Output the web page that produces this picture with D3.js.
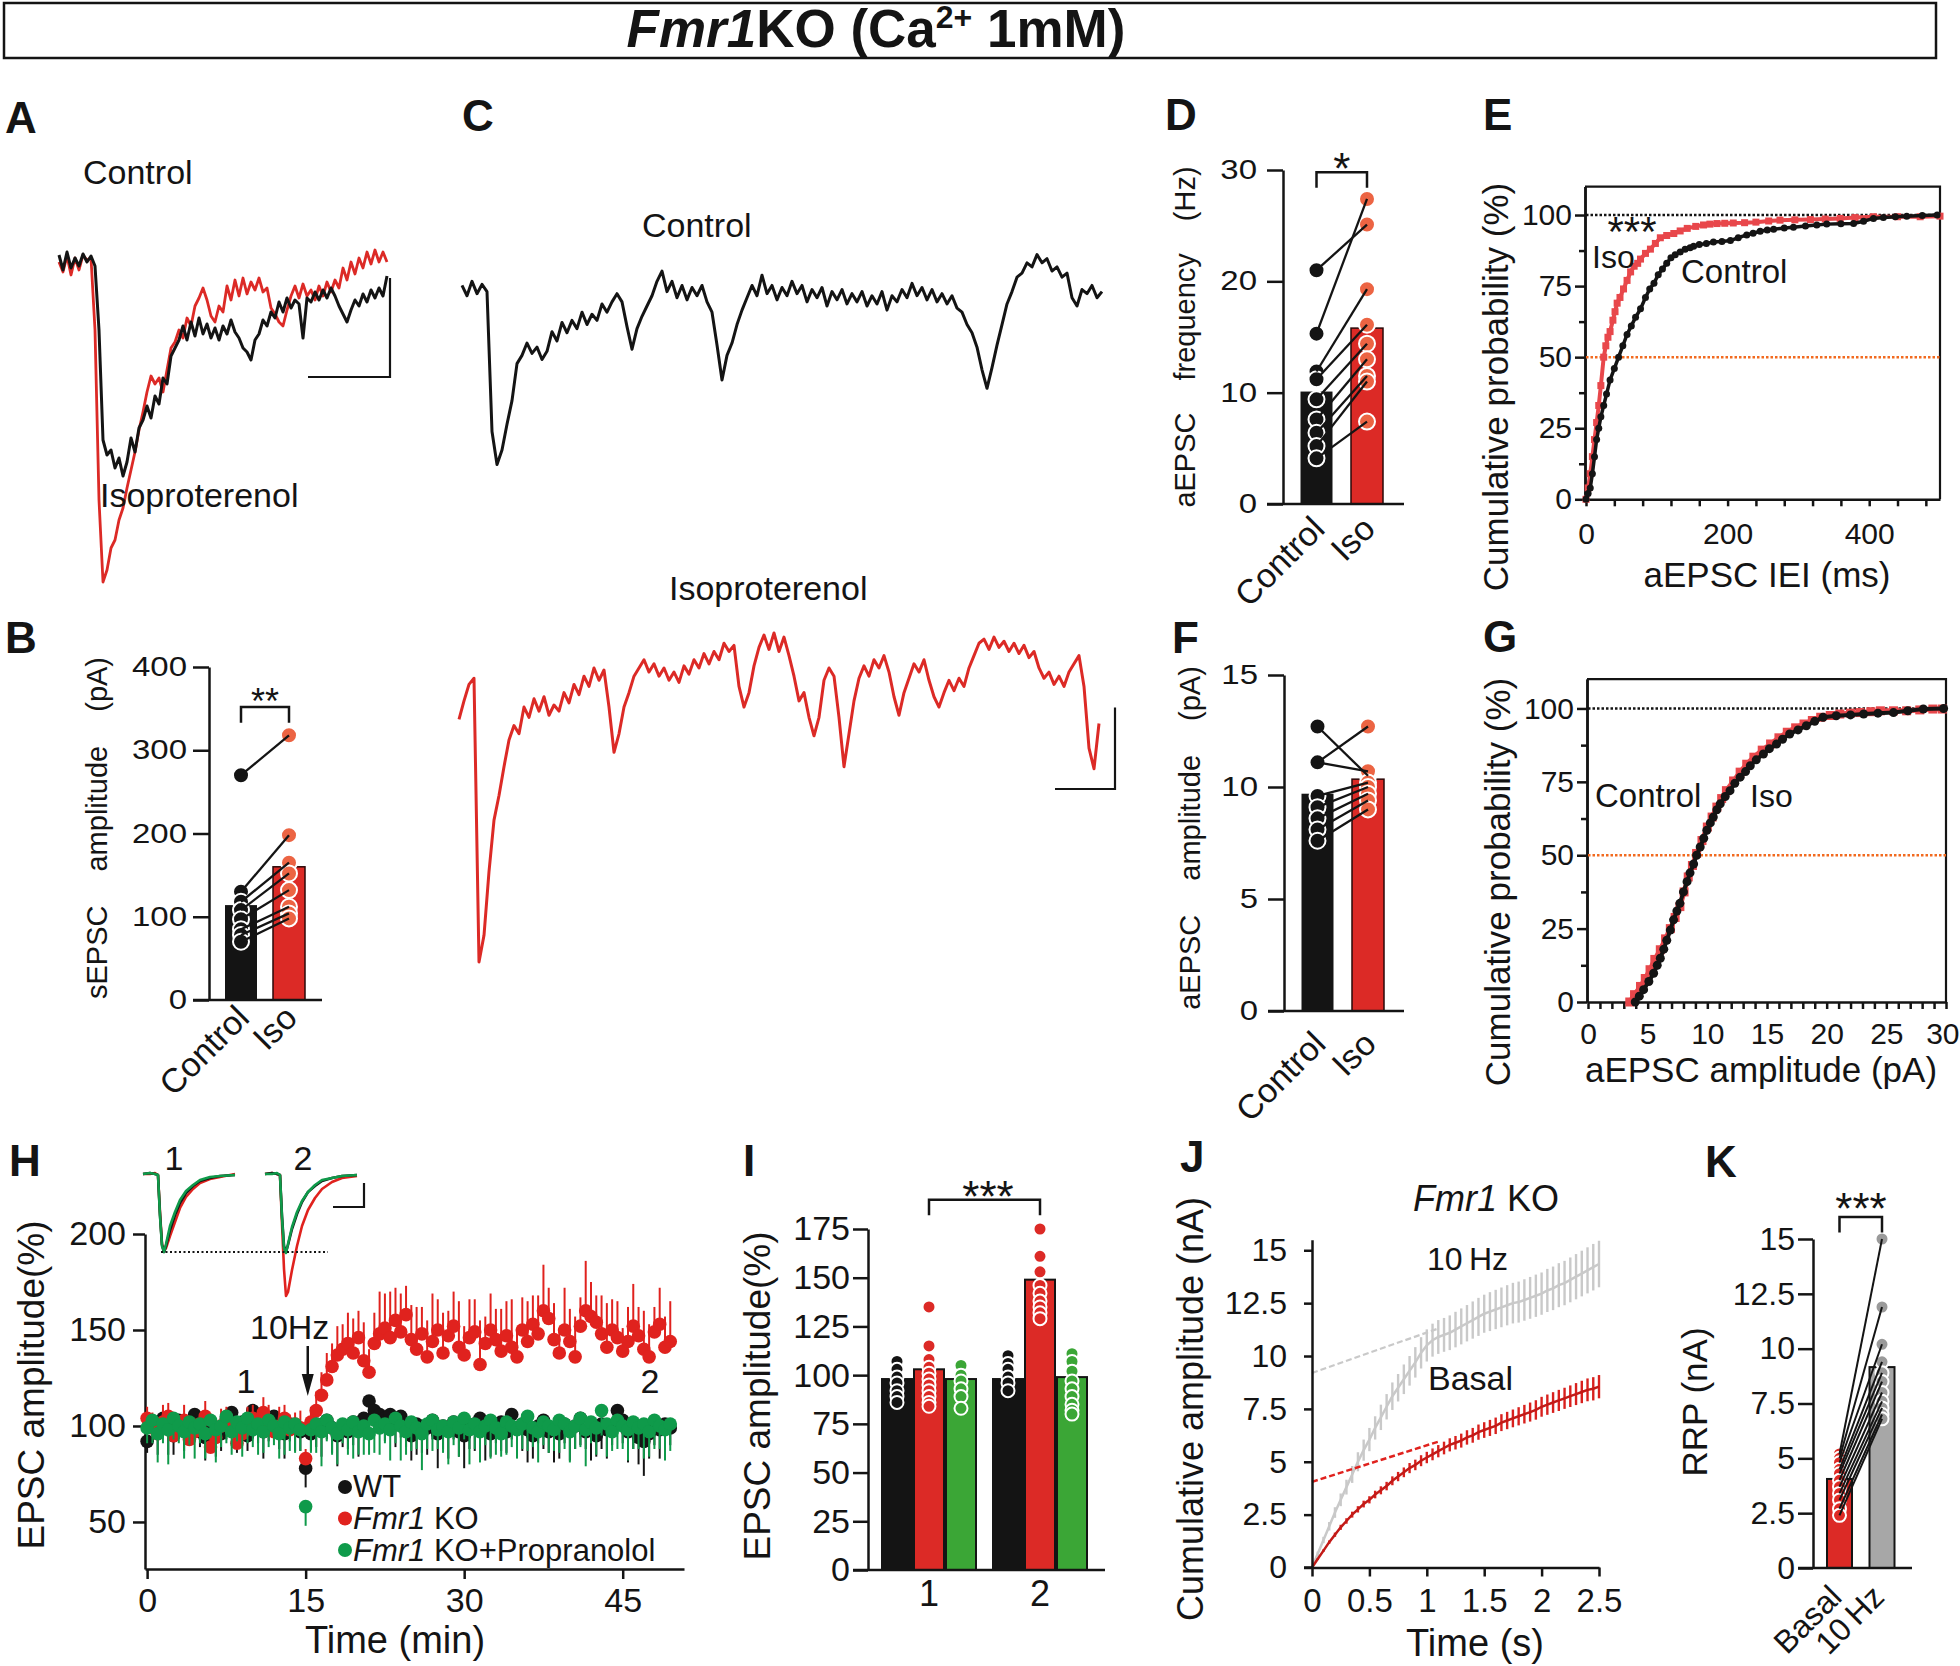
<!DOCTYPE html>
<html><head><meta charset="utf-8">
<script src="https://cdn.jsdelivr.net/npm/d3@7"></script>
<style>
body{margin:0;background:#fff}
svg text{font-family:"Liberation Sans",Arial,Helvetica,sans-serif;fill:#141414}
</style></head><body>
<svg id="fig" width="1960" height="1666" xmlns="http://www.w3.org/2000/svg"></svg>
<script>
// ================= DATA =================
// Panel A: representative sEPSC traces (1 sample / ms, pA)
const A_control = [8,-7,11,-5,5,-3,9,1,7,-3,-67,-177,-192,-187,-205,-195,-213,-199,-175,-189,-165,-157,-143,-155,-133,-141,-115,-121,-93,-85,-77,-63,-77,-59,-73,-55,-71,-61,-75,-65,-77,-63,-71,-57,-69,-75,-85,-89,-97,-77,-71,-57,-63,-49,-55,-39,-49,-35,-45,-37,-41,-75,-35,-39,-29,-37,-27,-35,-25,-33,-43,-51,-59,-47,-37,-43,-31,-39,-27,-35,-25,-33,-13];
const A_iso = [1,-9,7,-12,5,-7,8,3,5,-67,-237,-319,-307,-285,-277,-257,-245,-225,-207,-189,-167,-149,-129,-113,-121,-115,-129,-107,-85,-79,-67,-75,-55,-63,-43,-35,-25,-37,-53,-59,-43,-49,-23,-37,-17,-33,-15,-31,-19,-27,-15,-29,-25,-45,-51,-59,-63,-47,-33,-23,-35,-21,-33,-27,-37,-23,-33,-19,-29,-17,-25,-5,-17,1,-11,5,-5,11,-1,13,1,11,1];
// Panel C: aEPSC traces (pA)
const C_control = [2,-8,6,-6,3,-4,-140,-172,-158,-133,-110,-74,-66,-54,-64,-58,-70,-62,-43,-52,-34,-44,-32,-40,-24,-36,-26,-32,-16,-24,-14,-6,-14,-38,-60,-40,-28,-18,-8,6,16,-4,6,-10,2,-12,0,-8,2,-14,-24,-56,-90,-66,-54,-36,-22,-10,2,-8,12,-6,2,-12,0,-8,6,-6,2,-14,-2,-10,0,-18,-4,-12,-2,-16,-6,-14,-4,-18,-8,-16,-4,-22,-8,-14,-2,-10,4,-8,0,-12,-2,-14,-6,-16,-8,-20,-24,-36,-44,-58,-80,-98,-78,-56,-36,-16,-4,10,14,24,20,32,24,28,16,20,10,14,-10,-18,-2,-6,2,-10,-4];
const C_iso = [-52,-34,-18,-12,-288,-262,-200,-150,-126,-98,-72,-58,-66,-40,-50,-32,-44,-30,-48,-38,-44,-26,-36,-18,-28,-10,-20,-2,-14,-4,-40,-84,-66,-40,-26,-10,-2,6,-6,2,-10,-2,-14,-6,-16,0,-8,6,-2,12,2,14,6,22,14,20,-20,-40,-26,0,18,30,16,32,14,28,10,-10,-34,-26,-50,-68,-50,-14,-2,-10,-50,-98,-66,-34,-12,0,-10,6,-2,10,-6,-30,-48,-26,-12,2,-6,6,-14,-30,-40,-26,-14,-24,-12,-20,-2,10,22,26,16,28,18,24,14,22,12,20,8,14,-2,-12,-6,-18,-10,-20,-6,2,10,-20,-80,-100,-56];

// Paired bar panels
const categoriesCI = ['Control','Iso'];
const B_control = [270,130,118,108,97,85,78,70];
const B_iso     = [318,198,165,152,132,112,104,98];
const B_means   = [114,160];
const D_control = [21.0,15.3,11.9,11.2,9.4,7.6,6.4,5.2,4.1];
const D_iso     = [25.1,27.4,19.3,16.1,14.4,13.0,11.5,11.0,7.4];
const D_means   = [10.1,15.8];
const F_control = [12.7,11.1,11.1,9.6,9.1,8.6,8.1,7.6];
const F_iso     = [10.5,12.7,10.7,10.2,10.0,9.7,9.4,9.0];
const F_means   = [9.7,10.35];

// Cumulative distributions [x, %]
const E_control = [[0,0],[3,2],[6,4],[9,9],[12,15],[15,21],[18,25],[21,29],[25,33],[29,37],[34,42],[40,46],[46,50],[52,54],[58,58],[64,61],[70,64],[77,67],[84,71],[90,74],[96,76],[102,79],[108,81],[114,83],[120,85],[126,86],[133,87],[140,88],[147,88.5],[152,89],[160,89.6],[170,90],[180,90.5],[192,90.7],[204,91],[215,92],[227,93],[236,93.6],[246,94.3],[256,94.7],[265,95],[280,95.4],[293,95.7],[310,96.1],[326,96.5],[340,96.8],[360,96.9],[378,97],[392,97.8],[406,98.8],[420,99.1],[437,99.4],[453,99.6],[475,99.8],[496,100]];
const E_iso = [[0,0],[3,4],[6,9],[9,15],[12,21],[15,27],[18,33],[21,40],[25,50],[28,54],[31,57],[34,59],[38,63],[41,66],[44,69],[48,71],[53,74],[58,77],[63,80],[68,82],[73,83],[77,84.5],[84,86.5],[91,88],[98,90],[105,92],[114,92.8],[124,93.5],[133,94.4],[143,95.3],[155,96],[166,96.5],[175,96.8],[185,97],[196,97.1],[208,97.2],[224,97.3],[240,97.5],[258,97.9],[274,98.2],[295,98.3],[317,98.4],[338,98.6],[359,98.8],[380,99.1],[406,99.4],[440,99.4],[472,99.4],[500,99.6]];
const G_control = [[3.96,0],[4.3,2],[4.66,4.2],[5.1,7],[5.5,9.8],[5.8,12.5],[6.06,14.9],[6.35,18],[6.6,21],[6.9,24.5],[7.17,28],[7.45,31],[7.7,33.6],[8.0,37.5],[8.3,41],[8.55,44],[8.85,47],[9.1,50],[9.4,52.8],[9.7,55.8],[9.96,58.5],[10.25,61],[10.5,63],[10.8,65.5],[11.08,67.5],[11.5,70],[11.9,72],[12.3,74.5],[12.75,76.6],[13.2,78.5],[13.6,80.5],[14.1,82.5],[14.7,84.5],[15.2,86.3],[15.8,87.9],[16.3,89.5],[16.9,91.3],[17.6,92.7],[18.3,94.1],[19.0,95.6],[19.7,97],[20.8,97.5],[22.0,97.8],[23.1,98.1],[24.3,98.4],[25.6,98.6],[26.8,99.2],[28.1,99.8],[29.8,100]];
const G_iso = [[3.5,0],[3.9,2.5],[4.4,5.3],[4.8,8],[5.2,11],[5.6,14.5],[6.06,17.8],[6.5,21.5],[6.9,25],[7.3,28.8],[7.7,32.5],[8.05,37.5],[8.4,42.6],[8.75,46.5],[9.1,50.6],[9.55,55],[10.0,59.6],[10.4,63],[10.8,66.4],[11.2,69.3],[11.6,72],[12.2,75.3],[12.75,78.3],[13.3,81],[13.9,83.4],[14.6,85.8],[15.3,87.9],[16.0,90],[16.7,91.9],[17.4,93.4],[18.1,94.7],[18.8,95.9],[19.5,97],[20.3,97.6],[21.1,98.1],[22.0,98.4],[22.8,98.6],[23.7,98.9],[24.5,99.2],[25.6,99.2],[26.7,99.2],[27.8,99.5],[28.9,99.8],[29.7,99.8]];

// Panel H: time course (one point per 0.5 min), EPSC amplitude (%)
const H_dt = 0.5;
const H_WT = [92,101,97,104,99,95,103,98,100,106,97,94,101,99,96,104,107,99,102,95,108,100,97,103,105,98,96,101,99,97,78,96,101,98,103,99,95,100,97,102,99,104,113,108,106,104,106,103,105,98,95,101,97,99,103,96,100,98,102,97,95,99,101,104,98,96,100,102,97,106,99,101,98,95,100,103,97,99,96,101,98,100,104,97,99,95,101,98,100,108,103,97,99,94,92,96,100,98,101,99];
const H_WT_err = [6,9,12,8,14,10,7,11,9,13,8,12,10,15,9,11,7,13,10,8,12,9,14,11,8,10,13,9,12,10,10,9,12,14,10,13,16,11,9,12,15,10,8,11,9,12,10,14,11,9,13,16,11,14,10,18,12,15,9,13,17,11,14,10,16,12,9,15,11,13,10,14,17,12,9,15,11,18,13,10,16,12,14,9,17,11,13,15,10,8,12,16,11,14,18,13,10,15,12,9];
const H_KO = [104,99,96,102,105,95,99,103,93,97,101,105,89,94,100,103,98,91,96,101,104,99,107,102,97,100,104,98,101,99,83,102,108,116,124,131,137,140,143,138,146,134,128,143,148,151,146,155,149,158,145,140,148,136,144,150,138,147,152,141,137,146,149,132,143,150,145,139,147,141,136,150,144,153,148,160,156,145,138,150,144,136,152,160,157,154,148,141,150,146,139,144,152,147,140,136,149,153,141,144];
const H_KO_err = [6,8,5,9,7,10,6,8,9,7,5,8,10,6,9,7,8,10,6,9,7,5,8,9,6,10,7,8,6,9,5,8,10,12,14,12,15,13,16,18,14,20,12,16,22,18,24,17,20,15,18,22,14,19,25,16,21,13,18,24,15,20,17,23,14,19,16,22,18,25,14,17,21,15,20,24,16,19,13,22,17,21,15,26,18,14,20,23,16,19,12,18,22,15,20,17,13,19,16,21];
const H_Prop = [99,103,96,101,98,104,100,97,102,99,101,96,103,98,100,105,97,102,99,104,98,101,97,103,100,96,102,99,101,98,58,98,101,97,103,99,96,101,98,102,97,100,96,103,99,101,98,104,100,97,102,99,96,101,103,98,100,97,102,99,104,98,101,97,100,103,99,96,102,100,98,101,105,99,97,102,100,98,103,101,97,100,104,98,102,99,108,101,97,103,100,98,102,99,101,97,103,100,98,101];
const H_Prop_err = [8,12,15,10,18,11,9,14,12,16,10,13,9,17,11,14,12,10,15,13,9,16,11,14,10,13,17,12,15,11,10,12,15,18,11,14,16,10,13,19,12,15,11,17,14,10,16,13,18,12,15,11,19,13,16,10,14,17,12,15,11,18,13,16,10,20,14,12,17,11,15,13,18,10,16,12,14,11,17,13,16,12,15,19,11,14,13,17,10,15,12,16,14,11,18,13,15,12,16,14];
// H insets: sample times and deflections
const H_inset_t = [0,7,12,15,17,19,21,23,27,32,37,43,50,57,67,77,92];
const H_in1_WT   = [0,1,0,-1,-41,-71,-78,-72,-56,-41,-29,-19,-12,-7,-4,-2,-1];
const H_in1_KO   = [0,0,1,-1,-38,-70,-77,-74,-62,-48,-34,-23,-15,-9,-5,-3,0];
const H_in1_Prop = [0,1,0,-1,-42,-72,-78,-70,-52,-38,-26,-17,-11,-6,-3,-2,-1];
const H_in2_WT   = [0,1,0,-1,-42,-72,-78,-71,-55,-40,-28,-18,-12,-7,-4,-2,-1];
const H_in2_KO   = [0,1,0,-1,-50,-95,-122,-118,-96,-72,-52,-36,-24,-15,-8,-4,-2];
const H_in2_Prop = [0,0,1,-1,-44,-74,-79,-70,-53,-38,-27,-18,-11,-6,-4,-2,-1];

// Panel I
const I_groups = ['1','2'];
const I_series = ['WT','KO','Prop'];
const I_mean_WT = [98,98], I_mean_KO = [103,149], I_mean_Prop = [98,99];
const I_WT_1 = [107,103,99,96,92,89,86], I_WT_2 = [110,106,103,99,96,92];
const I_KO_1 = [135,115,108,104,101,98,95,92,89,86,84], I_KO_2 = [175,161,153,146,142,138,135,132,129];
const I_Prop_1 = [105,100,97,93,89,83], I_Prop_2 = [111,107,102,97,93,89,85,82,80];

// Panel J: cumulative amplitude, one point every 0.05 s
const J_dt = 0.05;
const J_10Hz = [0,0.65,1.3,1.95,2.6,3.2,3.8,4.4,5.0,5.55,6.05,6.6,7.1,7.6,8.1,8.5,8.9,9.3,9.7,10.15,10.5,10.75,10.9,11.0,11.1,11.25,11.4,11.55,11.7,11.85,12.0,12.1,12.2,12.3,12.4,12.5,12.55,12.65,12.75,12.85,12.95,13.1,13.2,13.35,13.45,13.6,13.75,13.9,14.05,14.2,14.35];
const J_10Hz_err = [0,0.1,0.15,0.2,0.25,0.3,0.35,0.4,0.45,0.5,0.55,0.55,0.6,0.6,0.65,0.65,0.7,0.7,0.72,0.74,0.76,0.78,0.8,0.8,0.82,0.84,0.85,0.86,0.88,0.9,0.9,0.92,0.93,0.94,0.95,0.96,0.97,0.98,0.99,1.0,1.0,1.02,1.03,1.04,1.05,1.06,1.07,1.08,1.09,1.1,1.1];
const J_basal = [0,0.4,0.8,1.2,1.55,1.9,2.2,2.5,2.75,3.0,3.2,3.45,3.65,3.85,4.1,4.3,4.5,4.7,4.85,5.05,5.2,5.35,5.5,5.65,5.8,5.9,6.0,6.15,6.25,6.4,6.5,6.6,6.7,6.85,6.95,7.05,7.15,7.25,7.35,7.45,7.6,7.7,7.8,7.9,8.0,8.1,8.2,8.3,8.4,8.45,8.55];
const J_basal_err = [0,0.04,0.06,0.08,0.1,0.12,0.13,0.14,0.15,0.16,0.17,0.18,0.19,0.2,0.21,0.22,0.23,0.24,0.25,0.26,0.27,0.28,0.29,0.3,0.31,0.32,0.33,0.34,0.35,0.36,0.37,0.38,0.39,0.4,0.41,0.42,0.43,0.44,0.45,0.46,0.47,0.48,0.49,0.5,0.5,0.51,0.52,0.53,0.54,0.55,0.55];
const J_fit10Hz = [[0,9.2],[1.1,11.3]];
const J_fitBasal = [[0,4.05],[1.1,5.95]];
const J_ticksX = [0,0.5,1,1.5,2,2.5];
const J_ticksY = [0,2.5,5,7.5,10,12.5,15];

// Panel K
const categoriesK = ['Basal','10\u2009Hz'];
const K_basal = [5.2,5.0,4.8,4.5,4.3,4.0,3.7,3.4,3.1,2.7,2.4];
const K_10Hz  = [15.0,11.9,10.2,9.4,8.9,8.5,8.0,7.6,7.3,7.0,6.8];
const K_means = [4.06,9.16];
const K_ticksY = [0,2.5,5,7.5,10,12.5,15];

// ================= DRAWING =================
const INK = '#141414', RED = '#dc2a26', ISO = '#ec6443', GREEN_H = '#0f9a4a', GREEN_I = '#3ba636', GRAY = '#a7a7a7';
const fmt = d => String(d);
const svg = d3.select('#fig');
const root = svg.append('g');

function T(x, y, s, fs, o = {}) {
  const t = root.append('text').attr('x', x).attr('y', y).attr('font-size', fs).text(s);
  if (o.anchor) t.attr('text-anchor', o.anchor);
  if (o.weight) t.attr('font-weight', o.weight);
  if (o.style) t.attr('font-style', o.style);
  return t;
}
function letter(x, y, s) { return T(x, y, s, 44, {weight: 'bold'}); }
function vLabel(x, y, parts, fs, gap) {
  const t = root.append('text').attr('transform', `translate(${x},${y}) rotate(-90)`).attr('text-anchor', 'middle').attr('font-size', fs);
  parts.forEach((p, i) => { const s = t.append('tspan').text(p); if (i) s.attr('dx', gap); });
  return t;
}
function styleAxis(a, fs, w = 2.5) {
  a.attr('font-family', null).attr('font-size', null);
  a.select('.domain').attr('stroke', INK).attr('stroke-width', w);
  a.selectAll('.tick line').attr('stroke', INK).attr('stroke-width', w);
  a.selectAll('.tick text').attr('font-size', fs).attr('fill', INK);
  return a;
}
function stretchText(sel, k) {
  sel.each(function () {
    const L = this.getComputedTextLength();
    if (L > 0) { this.setAttribute('textLength', (L * k).toFixed(1)); this.setAttribute('lengthAdjust', 'spacingAndGlyphs'); }
  });
}
function hline(x1, x2, y, w = 2.5, c = INK) { return root.append('line').attr('x1', x1).attr('x2', x2).attr('y1', y).attr('y2', y).attr('stroke', c).attr('stroke-width', w); }
function bracket(x1, x2, yTop, yLeg) {
  root.append('path').attr('d', `M${x1},${yLeg}V${yTop}H${x2}V${yLeg}`).attr('fill', 'none').attr('stroke', INK).attr('stroke-width', 2.5);
}
function rotLabels(names, xs, axisY, dx, dy, fs) {
  names.forEach(n => root.append('text').attr('transform', `translate(${xs(n) + dx},${axisY + dy}) rotate(-45)`).attr('text-anchor', 'end').attr('font-size', fs).text(n));
}

// ---------- Title ----------
root.append('rect').attr('x', 4).attr('y', 3).attr('width', 1932).attr('height', 55).attr('fill', 'none').attr('stroke', INK).attr('stroke-width', 2.5);
{
  const tt = root.append('text').attr('x', 876).attr('y', 47).attr('text-anchor', 'middle').attr('font-size', 53).attr('font-weight', 'bold');
  tt.append('tspan').attr('font-style', 'italic').text('Fmr1');
  tt.append('tspan').text('KO (Ca');
  tt.append('tspan').attr('font-size', 32).attr('dy', -19).text('2+');
  tt.append('tspan').attr('dy', 19).text(' 1mM)');
}

// ---------- Panel A ----------
letter(5, 133, 'A');
{
  const aX = d3.scaleLinear().domain([0, A_control.length - 1]).range([59, 387]);
  const aY = d3.scaleLinear().domain([0, -320]).range([263, 583]);
  const ln = d3.line().x((d, i) => aX(i)).y(d => aY(d));
  root.append('path').attr('d', ln(A_iso)).attr('fill', 'none').attr('stroke', RED).attr('stroke-width', 2.8).attr('stroke-linejoin', 'round');
  root.append('path').attr('d', ln(A_control)).attr('fill', 'none').attr('stroke', INK).attr('stroke-width', 3).attr('stroke-linejoin', 'round');
  root.append('path').attr('d', `M${aX(82.75)},${aY(-15)}V${aY(-114)}H${aX(62.25)}`).attr('fill', 'none').attr('stroke', INK).attr('stroke-width', 2.2);
  T(83, 184, 'Control', 34);
  T(100, 507, 'Isoproterenol', 34);
}

// ---------- Panel C ----------
letter(462, 131, 'C');
{
  const cXc = d3.scaleLinear().domain([0, C_control.length - 1]).range([462, 1102]);
  const cYc = d3.scaleLinear().domain([0, -200]).range([287.5, 493.2]);
  const cXi = d3.scaleLinear().domain([0, C_iso.length - 1]).range([459, 1099]);
  const cYi = d3.scaleLinear().domain([0, -300]).range([665.9, 974.4]);
  root.append('path').attr('d', d3.line().x((d, i) => cXc(i)).y(d => cYc(d))(C_control)).attr('fill', 'none').attr('stroke', INK).attr('stroke-width', 3).attr('stroke-linejoin', 'round');
  root.append('path').attr('d', d3.line().x((d, i) => cXi(i)).y(d => cYi(d))(C_iso)).attr('fill', 'none').attr('stroke', RED).attr('stroke-width', 3).attr('stroke-linejoin', 'round');
  root.append('path').attr('d', `M${cXi(131.2)},${cYi(-40.4)}V${cYi(-119.7)}H${cXi(119.2)}`).attr('fill', 'none').attr('stroke', INK).attr('stroke-width', 2.2);
  T(642, 237, 'Control', 34);
  T(669, 600, 'Isoproterenol', 34);
}

// ---------- paired bar panels (B, D, F) ----------
function pairedPanel(o) {
  const y = d3.scaleLinear().domain(o.domain).range(o.range);
  const x = d3.scalePoint().domain(categoriesCI).range(o.centers);
  const y0 = y(0);
  categoriesCI.forEach((c, i) => {
    root.append('rect').attr('x', x(c) - o.bw / 2).attr('width', o.bw).attr('y', y(o.means[i])).attr('height', y0 - y(o.means[i]))
      .attr('fill', i ? RED : INK).attr('stroke', i ? '#2a0808' : 'none').attr('stroke-width', i ? 1.5 : 0);
  });
  o.ctrl.forEach(v => root.append('circle').attr('cx', x('Control')).attr('cy', y(v)).attr('r', o.r).attr('fill', INK).attr('stroke', '#fff').attr('stroke-width', 2));
  o.iso.forEach(v => root.append('circle').attr('cx', x('Iso')).attr('cy', y(v)).attr('r', o.r).attr('fill', ISO).attr('stroke', '#fff').attr('stroke-width', 2));
  o.ctrl.forEach((v, i) => root.append('line').attr('x1', x('Control')).attr('y1', y(v)).attr('x2', x('Iso')).attr('y2', y(o.iso[i])).attr('stroke', INK).attr('stroke-width', 2.3));
  hline(o.axisX - 16, o.xEnd, y0);
  const a = root.append('g').attr('transform', `translate(${o.axisX},0)`).call(d3.axisLeft(y).tickValues(o.ticks).tickSize(16).tickPadding(o.pad).tickSizeOuter(0).tickFormat(fmt));
  styleAxis(a, 27);
  stretchText(a.selectAll('.tick text'), 1.22);
  if (o.sig) {
    bracket(x('Control'), x('Iso'), y(o.sig[0]), y(o.sig[1]));
    T((x('Control') + x('Iso')) / 2, y(o.sig[0]) + o.starDy, o.star, o.starFs, {anchor: 'middle'});
  }
  rotLabels(categoriesCI, x, y0, 10, o.labDy, 34);
}
letter(5, 653, 'B');
pairedPanel({domain: [0, 400], range: [1000, 667], centers: [241, 289], bw: 32, means: B_means, ctrl: B_control, iso: B_iso, r: 8,
  axisX: 209, xEnd: 322, ticks: [0, 100, 200, 300, 400], pad: 6, sig: [352, 333], star: '**', starFs: 36, starDy: 7, labDy: 20});
vLabel(107, 828, ['sEPSC', 'amplitude', '(pA)'], 29, 34);

letter(1165, 130, 'D');
pairedPanel({domain: [0, 30], range: [504, 170], centers: [1316.5, 1367], bw: 32, means: D_means, ctrl: D_control, iso: D_iso, r: 8,
  axisX: 1283, xEnd: 1404, ticks: [0, 10, 20, 30], pad: 10, sig: [29.8, 28.4], star: '*', starFs: 44, starDy: 12, labDy: 27});
vLabel(1195, 337, ['aEPSC', 'frequency', '(Hz)'], 29, 32);

letter(1172, 653, 'F');
pairedPanel({domain: [0, 15], range: [1011, 675], centers: [1317.5, 1368], bw: 32, means: F_means, ctrl: F_control, iso: F_iso, r: 8,
  axisX: 1284, xEnd: 1404, ticks: [0, 5, 10, 15], pad: 10, sig: null, labDy: 35});
vLabel(1200, 838, ['aEPSC', 'amplitude', '(pA)'], 29, 34);

// ---------- cumulative panels (E, G) ----------
function cumPanel(xs, ys, xTicks, labelled, xPad, series) {
  const [x0, x1] = xs.range(), [y0, y1] = ys.range();
  root.append('path').attr('d', `M${x0 - 1},${y1}H${x1}V${y0}`).attr('fill', 'none').attr('stroke', INK).attr('stroke-width', 2.2);
  styleAxis(root.append('g').attr('transform', `translate(${x0 - 1},0)`).call(d3.axisLeft(ys).tickValues([0, 25, 50, 75, 100]).tickSize(10).tickPadding(3).tickSizeOuter(0).tickFormat(fmt)), 30);
  styleAxis(root.append('g').attr('transform', `translate(${x0 - 1},0)`).call(d3.axisLeft(ys).tickValues([12.5, 37.5, 62.5, 87.5]).tickSize(6).tickFormat('').tickSizeOuter(0)), 30);
  const ab = styleAxis(root.append('g').attr('transform', `translate(0,${y0})`).call(d3.axisBottom(xs).tickValues(xTicks).tickSize(7).tickPadding(xPad).tickSizeOuter(0).tickFormat(d => labelled(d) ? d : '')), 30);
  hline(x0, x1, ys(100), 2.5, INK).attr('stroke-dasharray', '2.5,2');
  hline(x0, x1, ys(50), 2.5, '#f26a1f').attr('stroke-dasharray', '2.5,2');
  const ln = d3.line().x(d => xs(d[0])).y(d => ys(d[1]));
  series.forEach(s => {
    root.append('path').attr('d', ln(s.data)).attr('fill', 'none').attr('stroke', s.color).attr('stroke-width', s.lw);
    if (s.square) {
      s.data.forEach(d => root.append('rect').attr('x', xs(d[0]) - s.m / 2).attr('y', ys(d[1]) - s.m / 2).attr('width', s.m).attr('height', s.m).attr('fill', s.color));
    } else {
      s.data.forEach(d => root.append('circle').attr('cx', xs(d[0])).attr('cy', ys(d[1])).attr('r', s.m / 2).attr('fill', s.color));
    }
  });
  return ab;
}
letter(1483, 130, 'E');
{
  const eX = d3.scaleLinear().domain([0, 500]).range([1586, 1940]);
  const eY = d3.scaleLinear().domain([0, 110]).range([499.3, 186.6]);
  cumPanel(eX, eY, d3.range(0, 481, 40), d => d % 200 === 0, 16, [
    {data: E_iso, color: '#e8474b', lw: 4, square: true, m: 7},
    {data: E_control, color: INK, lw: 3.5, square: false, m: 7}
  ]);
  T(1632, 246, '***', 42, {anchor: 'middle'});
  T(1592, 268, 'Iso', 32);
  T(1681, 283, 'Control', 33);
  vLabel(1508, 387, ['Cumulative probability (%)'], 35, 0);
  T(1767, 587, 'aEPSC IEI (ms)', 35, {anchor: 'middle'});
}
letter(1483, 652, 'G');
{
  const gX = d3.scaleLinear().domain([0, 30]).range([1588, 1946]);
  const gY = d3.scaleLinear().domain([0, 110]).range([1002, 679.1]);
  const ab = cumPanel(gX, gY, d3.range(0, 31, 1), d => d % 5 === 0, 14, [
    {data: G_iso, color: '#e8474b', lw: 5, square: true, m: 9},
    {data: G_control, color: INK, lw: 4, square: false, m: 9}
  ]);
  ab.selectAll('.tick text').filter(d => d === 30).attr('text-anchor', 'end').attr('dx', 13);
  T(1595, 807, 'Control', 33);
  T(1750, 807, 'Iso', 32);
  vLabel(1510, 882, ['Cumulative probability (%)'], 35, 0);
  T(1761, 1082, 'aEPSC amplitude (pA)', 35, {anchor: 'middle'});
}

// ---------- Panel H ----------
letter(9, 1176, 'H');
{
  const hX = d3.scaleLinear().domain([-0.2, 50.8]).range([145, 684]);
  const hY = d3.scaleLinear().domain([25.5, 200]).range([1569, 1234]);
  styleAxis(root.append('g').attr('transform', 'translate(145,0)').call(d3.axisLeft(hY).tickValues([50, 100, 150, 200]).tickSize(12).tickPadding(7).tickSizeOuter(0).tickFormat(fmt)), 34);
  styleAxis(root.append('g').attr('transform', 'translate(0,1569)').call(d3.axisBottom(hX).tickValues([0, 15, 30, 45]).tickSize(10).tickPadding(9).tickSizeOuter(0).tickFormat(fmt)), 34);
  const series = [
    {v: H_WT, e: H_WT_err, dir: -1, c: INK},
    {v: H_KO, e: H_KO_err, dir: 1, c: '#e0221e'},
    {v: H_Prop, e: H_Prop_err, dir: -1, c: GREEN_H}
  ];
  series.forEach(s => {
    const g = root.append('g');
    s.v.forEach((v, i) => g.append('line').attr('x1', hX(i * H_dt)).attr('x2', hX(i * H_dt)).attr('y1', hY(v)).attr('y2', hY(v + s.dir * s.e[i])).attr('stroke', s.c).attr('stroke-width', 2));
    s.v.forEach((v, i) => g.append('circle').attr('cx', hX(i * H_dt)).attr('cy', hY(v)).attr('r', 6.8).attr('fill', s.c));
  });
  root.append('line').attr('x1', hX(15.2)).attr('x2', hX(15.2)).attr('y1', 1346).attr('y2', 1380).attr('stroke', INK).attr('stroke-width', 2.5);
  root.append('path').attr('d', `M${hX(15.2) - 6},1374L${hX(15.2) + 6},1374L${hX(15.2)},1396Z`).attr('fill', INK);
  T(250, 1339, '10Hz', 34);
  T(246, 1393, '1', 34, {anchor: 'middle'});
  T(650, 1393, '2', 34, {anchor: 'middle'});
  const legendLabels = [['', 'WT'], ['Fmr1', ' KO'], ['Fmr1', ' KO+Propranolol']];
  const legendColors = [INK, '#e0221e', GREEN_H];
  legendLabels.forEach((l, i) => {
    root.append('circle').attr('cx', 345).attr('cy', 1487 + i * 31.5).attr('r', 7).attr('fill', legendColors[i]);
    const t = root.append('text').attr('x', 353).attr('y', 1497 + i * 32).attr('font-size', 31);
    if (l[0]) t.append('tspan').attr('font-style', 'italic').text(l[0]);
    t.append('tspan').text(l[1]);
  });
  const inY = d3.scaleLinear().domain([0, -122]).range([1174, 1296]);
  const inX1 = d3.scaleLinear().domain([0, 92]).range([143, 235]);
  const inX2 = d3.scaleLinear().domain([0, 92]).range([265, 357]);
  const draw = (xs, vals, c) => root.append('path').attr('d', d3.line().x((d, i) => xs(H_inset_t[i])).y(d => inY(d))(vals)).attr('fill', 'none').attr('stroke', c).attr('stroke-width', 2.6).attr('stroke-linejoin', 'round');
  draw(inX1, H_in1_KO, '#e0221e'); draw(inX1, H_in1_WT, INK); draw(inX1, H_in1_Prop, GREEN_H);
  draw(inX2, H_in2_KO, '#e0221e'); draw(inX2, H_in2_WT, INK); draw(inX2, H_in2_Prop, GREEN_H);
  hline(161, 328, inY(-78), 2, INK).attr('stroke-dasharray', '2,2.5');
  root.append('path').attr('d', `M364,1183V1207H333`).attr('fill', 'none').attr('stroke', INK).attr('stroke-width', 2.2);
  T(174, 1170, '1', 34, {anchor: 'middle'});
  T(303, 1170, '2', 34, {anchor: 'middle'});
  vLabel(44, 1385, ['EPSC amplitude(%)'], 37, 0);
  T(395, 1653, 'Time (min)', 38, {anchor: 'middle'});
}

// ---------- Panel I ----------
letter(743, 1176, 'I');
{
  const iY = d3.scaleLinear().domain([0, 175]).range([1570, 1229]);
  const iG = d3.scalePoint().domain(I_groups).range([929, 1040]);
  const iS = d3.scalePoint().domain(I_series).range([-32, 32]);
  const means = {WT: I_mean_WT, KO: I_mean_KO, Prop: I_mean_Prop};
  const pts = {WT: [I_WT_1, I_WT_2], KO: [I_KO_1, I_KO_2], Prop: [I_Prop_1, I_Prop_2]};
  const col = {WT: INK, KO: RED, Prop: GREEN_I};
  I_groups.forEach((g, gi) => I_series.forEach(s => {
    const cx = iG(g) + iS(s);
    root.append('rect').attr('x', cx - 15).attr('width', 30).attr('y', iY(means[s][gi])).attr('height', iY(0) - iY(means[s][gi])).attr('fill', col[s]).attr('stroke', INK).attr('stroke-width', 2);
    pts[s][gi].forEach(v => root.append('circle').attr('cx', cx).attr('cy', iY(v)).attr('r', 6.5).attr('fill', col[s]).attr('stroke', '#fff').attr('stroke-width', 2));
  }));
  hline(853, 1105, iY(0));
  styleAxis(root.append('g').attr('transform', 'translate(868,0)').call(d3.axisLeft(iY).tickValues(d3.range(0, 176, 25)).tickSize(15).tickPadding(3).tickSizeOuter(0).tickFormat(fmt)), 34);
  I_groups.forEach(g => T(iG(g), 1606, g, 36, {anchor: 'middle'}));
  bracket(iG('1'), iG('2'), iY(190), iY(182));
  T(988, 1212, '***', 44, {anchor: 'middle'});
  vLabel(770, 1396, ['EPSC amplitude(%)'], 37, 0);
}

// ---------- Panel J ----------
letter(1180, 1172, 'J');
{
  const jX = d3.scaleLinear().domain([0, 2.5]).range([1312, 1599]);
  const jY = d3.scaleLinear().domain([0, 15.5]).range([1567.5, 1239.7]);
  const ln = d3.line().x((d, i) => jX(i * J_dt)).y(d => jY(d));
  J_10Hz.forEach((v, i) => root.append('line').attr('x1', jX(i * J_dt)).attr('x2', jX(i * J_dt)).attr('y1', jY(v - J_10Hz_err[i])).attr('y2', jY(v + J_10Hz_err[i])).attr('stroke', '#c9c9c9').attr('stroke-width', 2.4));
  root.append('path').attr('d', ln(J_10Hz)).attr('fill', 'none').attr('stroke', '#c9c9c9').attr('stroke-width', 2.5);
  J_basal.forEach((v, i) => root.append('line').attr('x1', jX(i * J_dt)).attr('x2', jX(i * J_dt)).attr('y1', jY(v - J_basal_err[i])).attr('y2', jY(v + J_basal_err[i])).attr('stroke', '#d8201d').attr('stroke-width', 2.4));
  root.append('path').attr('d', ln(J_basal)).attr('fill', 'none').attr('stroke', '#c21a17').attr('stroke-width', 2.5);
  const fl = d3.line().x(d => jX(d[0])).y(d => jY(d[1]));
  root.append('path').attr('d', fl(J_fit10Hz)).attr('fill', 'none').attr('stroke', '#c9c9c9').attr('stroke-width', 2.2).attr('stroke-dasharray', '6,3');
  root.append('path').attr('d', fl(J_fitBasal)).attr('fill', 'none').attr('stroke', '#e0221e').attr('stroke-width', 2.5).attr('stroke-dasharray', '6,3');
  hline(1304, 1312, jY(0));
  styleAxis(root.append('g').attr('transform', `translate(0,${jY(0)})`).call(d3.axisBottom(jX).tickValues(J_ticksX).tickSize(9).tickPadding(12).tickSizeOuter(0).tickFormat(fmt)), 33);
  styleAxis(root.append('g').attr('transform', 'translate(1312,0)').call(d3.axisLeft(jY).tickValues(J_ticksY).tickSize(8).tickPadding(17).tickSizeOuter(0).tickFormat(fmt)), 32);
  const tj = root.append('text').attr('x', 1413).attr('y', 1211).attr('font-size', 36);
  tj.append('tspan').attr('font-style', 'italic').text('Fmr1');
  tj.append('tspan').text(' KO');
  T(1427, 1270, '10\u2009Hz', 32);
  T(1428, 1390, 'Basal', 34);
  vLabel(1203, 1409, ['Cumulative amplitude (nA)'], 36, 0);
  T(1475, 1656, 'Time (s)', 38, {anchor: 'middle'});
}

// ---------- Panel K ----------
letter(1705, 1177, 'K');
{
  const kY = d3.scaleLinear().domain([0, 15]).range([1568, 1239]);
  const kX = d3.scalePoint().domain(categoriesK).range([1839.5, 1882]);
  const cols = [RED, GRAY];
  categoriesK.forEach((c, i) => root.append('rect').attr('x', kX(c) - 12.5).attr('width', 25).attr('y', kY(K_means[i])).attr('height', kY(0) - kY(K_means[i])).attr('fill', cols[i]).attr('stroke', INK).attr('stroke-width', 2));
  K_basal.forEach(v => root.append('circle').attr('cx', kX(categoriesK[0])).attr('cy', kY(v)).attr('r', 6.5).attr('fill', '#de2a25').attr('stroke', '#fff').attr('stroke-width', 2));
  K_10Hz.forEach(v => root.append('circle').attr('cx', kX(categoriesK[1])).attr('cy', kY(v)).attr('r', 6.5).attr('fill', '#9a9a9a').attr('stroke', '#fff').attr('stroke-width', 2));
  K_basal.forEach((v, i) => root.append('line').attr('x1', kX(categoriesK[0])).attr('y1', kY(v)).attr('x2', kX(categoriesK[1])).attr('y2', kY(K_10Hz[i])).attr('stroke', INK).attr('stroke-width', 2));
  hline(1798, 1912, kY(0));
  styleAxis(root.append('g').attr('transform', 'translate(1813,0)').call(d3.axisLeft(kY).tickValues(K_ticksY).tickSize(15).tickPadding(3).tickSizeOuter(0).tickFormat(fmt)), 32);
  bracket(kX(categoriesK[0]), kX(categoriesK[1]), kY(16.0), kY(15.3));
  T(1861, 1224, '***', 44, {anchor: 'middle'});
  rotLabels(categoriesK, kX, kY(0), 4, 31, 32);
  vLabel(1707, 1402, ['RRP (nA)'], 35, 0);
}
</script>
</body></html>
